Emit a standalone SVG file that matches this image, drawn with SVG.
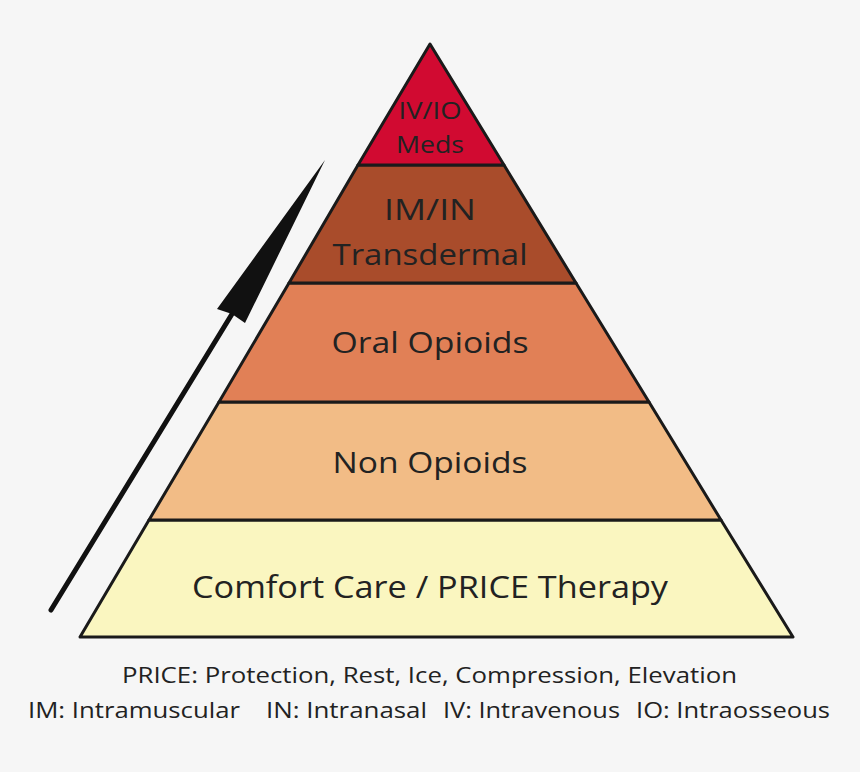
<svg xmlns="http://www.w3.org/2000/svg" width="860" height="772" viewBox="0 0 860 772">
<style>
.lay{stroke:#1a1a1a;stroke-width:3;stroke-linejoin:round}
.t{font-family:"Open Sans","Liberation Sans",sans-serif;fill:#222;text-anchor:middle}
.f{font-family:"Open Sans","Liberation Sans",sans-serif;fill:#222;font-size:21px}
</style>
<rect width="860" height="772" fill="#f6f6f6"/>
<g id="connectors">
<line x1="51" y1="610" x2="232" y2="314" stroke="#111" stroke-width="5" stroke-linecap="round"/>
<polygon points="325,160 245,323 232,314 217,309" fill="#111"/>
</g>
<g id="layer5"><polygon class="lay" points="149,520 721,520 793,637 80,637" fill="#faf6c0"/><text class="t" x="430" y="598" font-size="31" textLength="476" lengthAdjust="spacingAndGlyphs">Comfort Care / PRICE Therapy</text></g>
<g id="layer4"><polygon class="lay" points="219,402 649,402 721,520 149,520" fill="#f2bc86"/><text class="t" x="430" y="473" font-size="30" textLength="195" lengthAdjust="spacingAndGlyphs">Non Opioids</text></g>
<g id="layer3"><polygon class="lay" points="289,283 576,283 649,402 219,402" fill="#e18056"/><text class="t" x="430" y="353" font-size="30" textLength="197" lengthAdjust="spacingAndGlyphs">Oral Opioids</text></g>
<g id="layer2"><polygon class="lay" points="358,165 504,165 576,283 289,283" fill="#a94c2b"/><text class="t" x="430" y="220" font-size="30" textLength="92" lengthAdjust="spacingAndGlyphs">IM/IN</text><text class="t" x="430" y="265" font-size="30" textLength="195" lengthAdjust="spacingAndGlyphs">Transdermal</text></g>
<g id="layer1"><polygon class="lay" points="430,44 504,165 358,165" fill="#d10a31"/><text class="t" x="430" y="119" font-size="24" textLength="63" lengthAdjust="spacingAndGlyphs">IV/IO</text><text class="t" x="430" y="153" font-size="24" textLength="68" lengthAdjust="spacingAndGlyphs">Meds</text></g>
<g id="footnote">
<text class="f" x="122" y="683" textLength="615" lengthAdjust="spacingAndGlyphs">PRICE: Protection, Rest, Ice, Compression, Elevation</text>
<text class="f" x="28" y="718" textLength="212" lengthAdjust="spacingAndGlyphs">IM: Intramuscular</text>
<text class="f" x="266" y="718" textLength="161" lengthAdjust="spacingAndGlyphs">IN: Intranasal</text>
<text class="f" x="443" y="718" textLength="177" lengthAdjust="spacingAndGlyphs">IV: Intravenous</text>
<text class="f" x="636" y="718" textLength="194" lengthAdjust="spacingAndGlyphs">IO: Intraosseous</text>
</g>
</svg>
